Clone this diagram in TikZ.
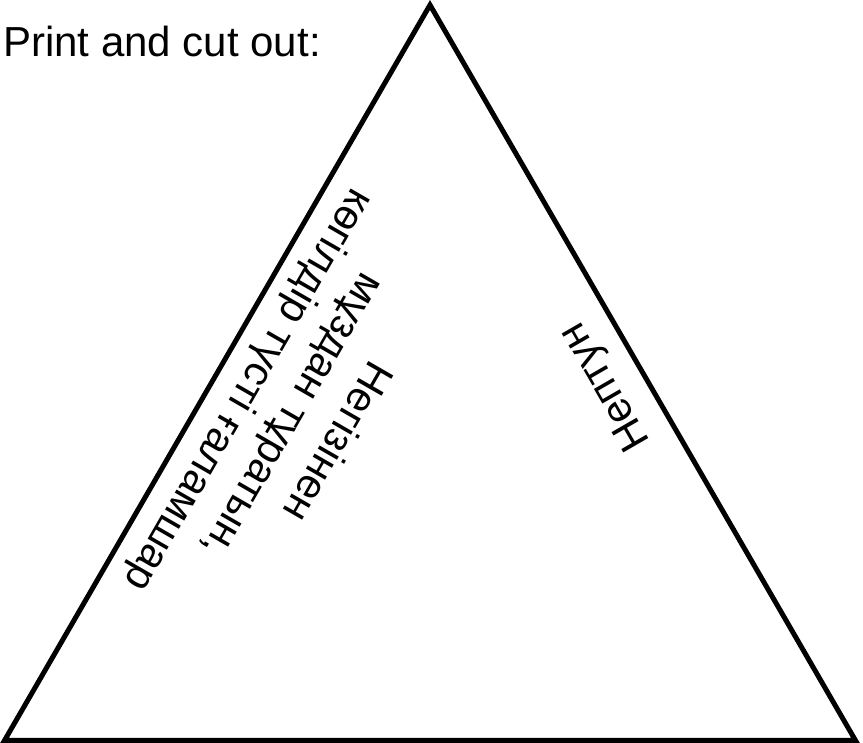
\documentclass[tikz,border=0pt]{standalone}
\usepackage{fontspec}
\setmainfont{Liberation Sans}
\usetikzlibrary{positioning}
\begin{document}
\begin{tikzpicture}[x=1pt,y=1pt,
  lbl/.style={font=\fontsize{42}{51}\selectfont, align=center, inner sep=0pt}]
  \useasboundingbox (0,0) rectangle (863,743);
  % cut-out triangle
  \coordinate (L) at (4.5,2.5);
  \coordinate (R) at (855.5,2.5);
  \coordinate (T) at (430,738);
  \draw[line width=5pt, line join=miter] (L) -- (T) -- (R) -- cycle;
  \node[lbl, anchor=base west] (title) at (3,686) {Print and cut out:};
  \node[lbl, rotate=240] (desc) at (291.5,328) {Негізінен\\мұздан тұратын,\\көгілдір түсті ғаламшар};
  \node[lbl, rotate=120] (name) at (606.5,357) {Нептун};
\end{tikzpicture}
\end{document}
